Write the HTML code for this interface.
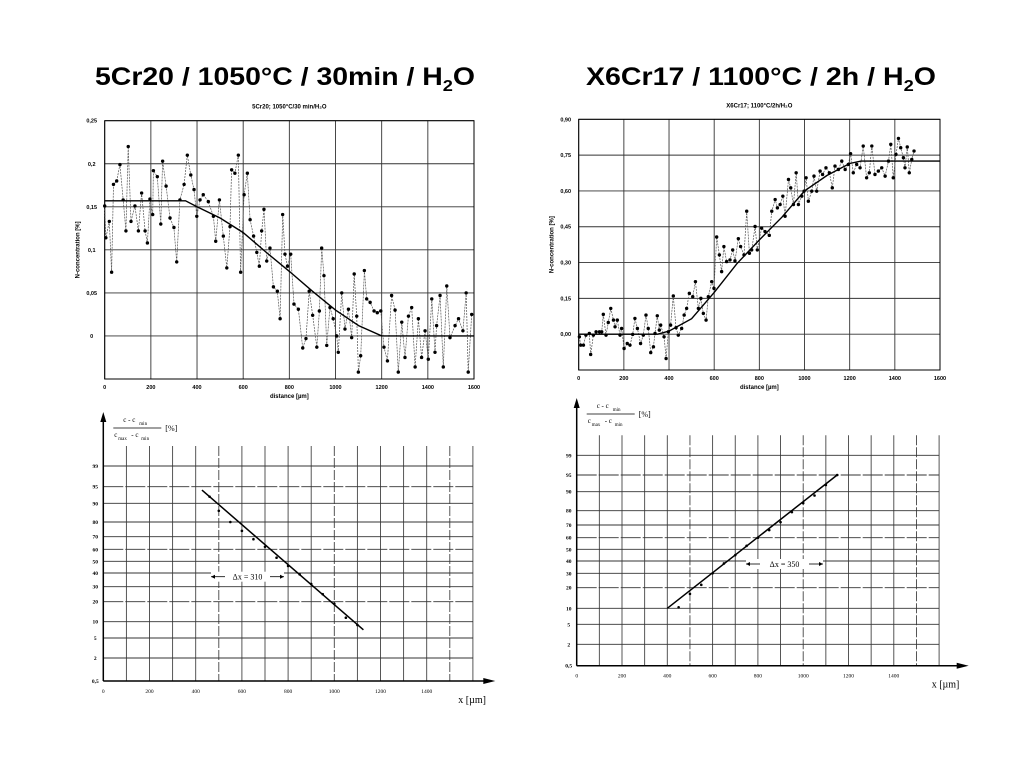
<!DOCTYPE html>
<html><head><meta charset="utf-8"><style>
html,body{margin:0;padding:0;background:#fff;}
svg{display:block;font-family:"Liberation Sans",sans-serif;}
</style></head>
<body>
<svg id="s" width="1024" height="768" viewBox="0 0 1024 768" xmlns="http://www.w3.org/2000/svg">
<text x="95" y="85" font-size="25" font-weight="bold" textLength="380" lengthAdjust="spacingAndGlyphs">5Cr20 / 1050°C / 30min / H<tspan font-size="16" dy="6">2</tspan><tspan dy="-6">O</tspan></text>
<text x="586" y="85" font-size="25" font-weight="bold" textLength="350" lengthAdjust="spacingAndGlyphs">X6Cr17 / 1100°C / 2h / H<tspan font-size="16" dy="6">2</tspan><tspan dy="-6">O</tspan></text>
</svg>
<script>
// ---- top-left data ----
const tlX=[0,5,20,30,38,52,66,80,92,102,114,131,146,160,175,185,196,208,211,228,243,251,266,283,300,312,326,344,358,373,387,399,413,427,449,471,481,497,514,529,543,550,564,579,589,604,618,630,645,659,670,680,690,702,716,731,748,760,771,781,792,806,820,839,858,872,886,901,919,930,940,950,962,976,990,1005,1012,1027,1041,1056,1070,1081,1092,1099,1109,1125,1135,1150,1167,1181,1196,1210,1225,1243,1258,1272,1287,1301,1316,1330,1345,1359,1373,1388,1402,1417,1431,1438,1453,1467,1482,1496,1518,1533,1552,1566,1575,1590];
const tlY=[0.151,0.114,0.133,0.074,0.176,0.18,0.199,0.158,0.122,0.22,0.133,0.151,0.122,0.166,0.122,0.108,0.159,0.141,0.192,0.185,0.13,0.203,0.174,0.137,0.126,0.086,0.158,0.176,0.21,0.187,0.17,0.139,0.158,0.164,0.156,0.139,0.11,0.158,0.116,0.079,0.127,0.193,0.189,0.21,0.074,0.164,0.189,0.135,0.116,0.097,0.081,0.122,0.147,0.087,0.102,0.057,0.052,0.02,0.141,0.095,0.081,0.095,0.037,0.031,-0.014,-0.003,0.052,0.024,-0.013,0.029,0.102,0.07,-0.011,0.033,0.02,0.0,-0.019,0.05,0.008,0.031,-0.002,0.072,0.023,-0.042,-0.023,0.076,0.043,0.039,0.029,0.027,0.029,-0.013,-0.029,0.047,0.03,-0.042,0.016,-0.025,0.023,0.033,-0.036,0.02,-0.025,0.006,-0.027,0.043,-0.019,0.012,0.047,-0.036,0.058,-0.002,0.012,0.02,0.006,0.05,-0.042,0.025];
const tlFitX=[0,350,400,500,600,700,800,900,1000,1100,1200,1600];
const tlFitY=[0.157,0.157,0.15,0.137,0.12,0.097,0.075,0.052,0.03,0.012,0,0];
const tlYTicks=[0.25,0.2,0.15,0.1,0.05,0];
const tlYLabels=["0,25","0,2","0,15","0,1","0,05","0"];
const xTicksTop=[0,200,400,600,800,1000,1200,1400,1600];
// ---- top-right data ----
const trX=[3,9,21,32,47,53,65,77,92,102,109,121,131,142,154,161,171,183,190,201,215,227,239,249,260,274,286,298,308,319,331,338,348,357,363,378,387,397,407,419,431,441,456,467,478,490,505,517,530,541,552,564,574,589,599,611,623,633,643,655,670,682,692,707,717,732,744,756,766,781,791,810,825,844,855,870,880,892,904,914,929,939,951,963,973,988,998,1007,1017,1032,1042,1054,1069,1080,1095,1110,1123,1135,1150,1165,1180,1194,1204,1216,1231,1246,1260,1275,1287,1298,1312,1327,1342,1357,1372,1382,1393,1405,1416,1426,1438,1445,1455,1464,1475,1485];
const trY=[-0.011,-0.046,-0.046,-0.004,0.003,-0.085,-0.004,0.01,0.01,0.01,0.083,-0.004,0.049,0.108,0.059,0.031,0.059,-0.004,0.024,-0.06,-0.039,-0.046,-0.001,0.066,0.024,-0.039,-0.004,0.08,0.024,-0.077,-0.053,0.003,0.077,0.017,0.038,-0.011,-0.102,0.01,0.038,0.16,0.027,-0.004,0.024,0.08,0.108,0.171,0.157,0.22,0.108,0.15,0.087,0.059,0.157,0.22,0.192,0.407,0.332,0.262,0.367,0.304,0.311,0.353,0.307,0.4,0.367,0.332,0.515,0.339,0.353,0.451,0.353,0.444,0.43,0.414,0.515,0.564,0.529,0.543,0.578,0.494,0.648,0.613,0.543,0.676,0.543,0.578,0.599,0.655,0.557,0.599,0.662,0.599,0.683,0.669,0.697,0.676,0.613,0.704,0.69,0.725,0.69,0.711,0.756,0.676,0.711,0.697,0.788,0.655,0.676,0.788,0.669,0.683,0.697,0.662,0.725,0.795,0.655,0.753,0.82,0.781,0.739,0.697,0.784,0.676,0.732,0.767];
const trFitX=[0,350,400,500,600,700,800,900,1000,1100,1200,1250,1600];
const trFitY=[0,0,0.013,0.065,0.175,0.295,0.395,0.49,0.6,0.665,0.715,0.725,0.725];
const trYTicks=[0.9,0.75,0.6,0.45,0.3,0.15,0];
const trYLabels=["0,90","0,75","0,60","0,45","0,30","0,15","0,00"];
// ---- bottom data ----
const probTicks=[99,95,90,80,70,60,50,40,30,20,10,5,2,0.5];
const probLabels=["99","95","90","80","70","60","50","40","30","20","10","5","2","0,5"];
const xTicksBot=[0,200,400,600,800,1000,1200,1400];
const blX=[460,500,550,600,650,700,750,800,850,900,950,1000,1050,1100];
const blY=[92,86,80,74,68,62,53,46,39,32,25,19,12,9];
const blFitX=[427,1126];
const blFitY=[94,7.5];
const brX=[450,500,550,600,650,700,750,800,850,900,950,1000,1050,1100,1150];
const brY=[10.5,17,22,30,38,45,53,60,66,72,79,84,88,92,95];
const brFitX=[400,1150];
const brFitY=[10,95];

const NS="http://www.w3.org/2000/svg";
const svg=document.getElementById('s');
function el(tag,attrs,parent,text){const e=document.createElementNS(NS,tag);for(const k in attrs)e.setAttribute(k,attrs[k]);if(text!==undefined)e.textContent=text;(parent||svg).appendChild(e);return e;}
function lin(d0,d1,r0,r1){return v=>r0+(v-d0)/(d1-d0)*(r1-r0);}
function piece(vals,pos){return v=>{for(let i=0;i<vals.length-1;i++){const a=vals[i],b=vals[i+1];if((v<=a&&v>=b)){return pos[i]+(v-a)/(b-a)*(pos[i+1]-pos[i]);}}return v>vals[0]?pos[0]-(v-vals[0]):pos[pos.length-1];};}

function topChart(name,L,R,T,B,ymin,ymax,yt,yl,px,py,fx,fy,title){
  const g=el('g',{});  
  const X=lin(0,1600,L,R),Y=lin(ymin,ymax,B,T);
  const t=el('text',{x:(L+R)/2,y:T-12,'text-anchor':'middle','font-size':6,'font-weight':'bold'},g,title);
   
  xTicksTop.forEach(v=>{const l=el('line',{x1:X(v),x2:X(v),y1:T,y2:B,stroke:'#333','stroke-width':0.9},g);
    const tx=el('text',{x:X(v),y:B+10,'text-anchor':'middle','font-size':5.5,'font-weight':'bold'},g,String(v));});
  yt.forEach((v,i)=>{const l=el('line',{x1:L,x2:R,y1:Y(v),y2:Y(v),stroke:'#333','stroke-width':0.9},g);
    const tx=el('text',{x:L-13,y:Y(v)+2,'text-anchor':'middle','font-size':5.5,'font-weight':'bold'},g,yl[i]);});
  const f=el('rect',{x:L,y:T,width:R-L,height:B-T,fill:'none',stroke:'#000','stroke-width':1},g);
  const xl=el('text',{x:(L+R)/2,y:B+19,'text-anchor':'middle','font-size':6,'font-weight':'bold'},g,'distance [µm]');
  const yy=(T+B)/2;const ylab=el('text',{x:L-25,y:yy,'text-anchor':'middle','font-size':6,'font-weight':'bold',transform:`rotate(-90 ${L-25} ${yy})`},g,'N-concentration [%]');
  const pts=px.map((v,i)=>X(v).toFixed(1)+','+Y(py[i]).toFixed(1)).join(' ');
  const pl=el('polyline',{points:pts,fill:'none',stroke:'#555','stroke-width':0.7,'stroke-dasharray':'2 1'},g);
  px.forEach((v,i)=>{const c=el('circle',{cx:X(v),cy:Y(py[i]),r:1.7,fill:'#000'},g);});
  const fp=fx.map((v,i)=>X(v).toFixed(1)+','+Y(fy[i]).toFixed(1)).join(' ');
  const fl=el('polyline',{points:fp,fill:'none',stroke:'#000','stroke-width':1.4},g);
}
topChart('top-left-chart',104.7,474,120.7,379,-0.05,0.25,tlYTicks,tlYLabels,tlX,tlY,tlFitX,tlFitY,'5Cr20; 1050°C/30 min/H₂O');
topChart('top-right-chart',578.7,940,119.3,370,-0.15,0.9,trYTicks,trYLabels,trX,trY,trFitX,trFitY,'X6Cr17; 1100°C/2h/H₂O');

function botChart(name,L,B,step,yPos,arrowTop,px,py,fx,fy,dxLabel,dxY,dx0,dx1){
  const g=el('g',{});  
  const X=v=>L+v/200*step, Y=piece(probTicks,yPos);
  const gridR=X(1600), gridT=yPos[0]-20;
  for(let v=100;v<=1600;v+=100){const l=el('line',{x1:X(v),x2:X(v),y1:gridT,y2:B,stroke:'#444','stroke-width':0.9,'stroke-dasharray':v%500===0?'10 2':'none'},g);}
  probTicks.forEach((v,i)=>{const l=el('line',{x1:L,x2:gridR,y1:Y(v),y2:Y(v),stroke:'#333','stroke-width':0.9,'stroke-dasharray':i%4===1?'20 2':'none'},g);
    const tx=el('text',{x:L-8,y:Y(v)+2,'text-anchor':'middle','font-size':5.5,'font-family':'Liberation Serif','font-weight':'bold'},g,probLabels[i]);});
  xTicksBot.forEach(v=>{const tx=el('text',{x:X(v),y:B+12,'text-anchor':'middle','font-size':5.5,'font-family':'Liberation Serif'},g,String(v));});
  const ax=el('line',{x1:L,x2:L+384,y1:B,y2:B,stroke:'#000','stroke-width':1.5},g);
  const ah=el('polygon',{points:`${L+392},${B} ${L+380},${B-3} ${L+380},${B+3}`,fill:'#000'},g);
  const ay=el('line',{x1:L,x2:L,y1:arrowTop+8,y2:B,stroke:'#000','stroke-width':1.5},g);
  const ayh=el('polygon',{points:`${L},${arrowTop} ${L-3},${arrowTop+10} ${L+3},${arrowTop+10}`,fill:'#000'},g);
  const xt=el('text',{x:L+355,y:B+22,'font-size':10,'font-family':'Liberation Serif'},g,'x [µm]');
  const yt=el('g',{},g);
  el('text',{x:L+20,y:arrowTop+10,'font-size':7,'font-family':'Liberation Serif'},yt,'c - c');
  el('text',{x:L+36,y:arrowTop+13,'font-size':5,'font-family':'Liberation Serif'},yt,'min');
  el('line',{x1:L+10,x2:L+58,y1:arrowTop+16,y2:arrowTop+16,stroke:'#000','stroke-width':0.7},yt);
  el('text',{x:L+11,y:arrowTop+25,'font-size':7,'font-family':'Liberation Serif'},yt,'c');
  el('text',{x:L+15,y:arrowTop+28,'font-size':5,'font-family':'Liberation Serif'},yt,'max');
  el('text',{x:L+28,y:arrowTop+25,'font-size':7,'font-family':'Liberation Serif'},yt,'- c');
  el('text',{x:L+38,y:arrowTop+28,'font-size':5,'font-family':'Liberation Serif'},yt,'min');
  el('text',{x:L+62,y:arrowTop+19,'font-size':8,'font-family':'Liberation Serif'},yt,'[%]');
  const fl=el('line',{x1:X(fx[0]),y1:Y(fy[0]),x2:X(fx[1]),y2:Y(fy[1]),stroke:'#000','stroke-width':1.5},g);
  px.forEach((v,i)=>{const c=el('circle',{cx:X(v),cy:Y(py[i]),r:1.3,fill:'#000'},g);});
  const d=el('g',{},g);
  el('rect',{x:dx0,y:dxY-5,width:dx1-dx0,height:10,fill:'#fff'},d);
  el('line',{x1:dx0,x2:dx0+14,y1:dxY,y2:dxY,stroke:'#000','stroke-width':0.8},d);
  el('line',{x1:dx1-14,x2:dx1,y1:dxY,y2:dxY,stroke:'#000','stroke-width':0.8},d);
  el('polygon',{points:`${dx0},${dxY} ${dx0+4},${dxY-2} ${dx0+4},${dxY+2}`},d);
  el('polygon',{points:`${dx1},${dxY} ${dx1-4},${dxY-2} ${dx1-4},${dxY+2}`},d);
  el('text',{x:(dx0+dx1)/2,y:dxY+3,'text-anchor':'middle','font-size':8,'font-family':'Liberation Serif'},d,dxLabel);
}
botChart('bottom-left-chart',103.3,681,46.2,[466,486.7,503.3,522,536.7,549.3,561.3,573,586.7,601.7,621.7,638,658,681],412,blX,blY,blFitX,blFitY,'Δx = 310',576.7,211,284);
botChart('bottom-right-chart',576.7,665.7,45.3,[455.3,475,491.7,510.7,525,537.7,549.3,561,573.3,587.7,608.3,624.3,644.3,665.7],398,brX,brY,brFitX,brFitY,'Δx = 350',564,746,823);
</script>
</body></html>
